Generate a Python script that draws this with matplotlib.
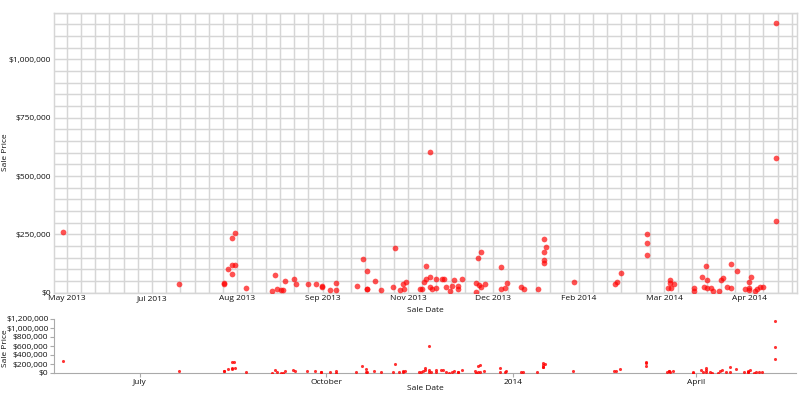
import datetime as dt
import matplotlib
matplotlib.use("Agg")
import matplotlib.pyplot as plt
import matplotlib.dates as mdates
from matplotlib.ticker import FuncFormatter, MultipleLocator

plt.rcParams['font.family'] = ['Open Sans', 'DejaVu Sans']

# ---- data ----
base_date = dt.datetime(2013, 5, 19)
sale_day = [  # days after 2013-05-19
    5.4, 62.5, 84.5, 84.6, 86.5, 88.5, 89.6, 88.5, 89.8, 88.5, 95.4,
    108.2, 109.5, 110.6, 112.5, 113.5, 114.5, 118.7, 119.7, 125.6, 129.5,
    132.5, 132.6, 136.6, 139.6, 139.7, 149.7, 152.7, 154.6, 154.6, 154.9,
    158.7, 161.8, 167.6, 168.7, 170.9, 172.9, 172.6, 173.8, 180.7, 181.7,
    182.7, 183.7, 183.7, 185.7, 185.7, 185.8, 186.8, 188.8, 188.8, 191.6,
    192.7, 193.8, 195.5, 196.7, 197.8, 199.7, 199.7, 201.8, 208.5, 208.7,
    209.6, 210.8, 209.9, 210.9, 212.8, 220.6, 220.7, 222.9, 223.7, 230.8,
    231.9, 238.9, 241.8, 242.8, 241.8, 241.8, 241.8, 256.8, 276.8, 277.9,
    279.9, 292.8, 292.8, 292.8, 302.8, 303.9, 303.9, 304.4, 306.0, 315.9,
    315.9, 319.9, 320.7, 321.9, 322.0, 322.3, 324.1, 325.1, 327.9, 329.0,
    330.0, 332.0, 333.9, 333.9, 336.9, 340.8, 342.8, 342.8, 343.0, 343.9,
    345.9, 346.9, 348.2, 349.9, 356.1, 356.1, 356.1,
]
sale_price = [
    259000, 37000, 38000, 42000, 100000, 234000, 254000, 120000, 120000, 80000, 20000,
    9000, 75000, 14000, 10000, 10000, 50000, 59000, 36000, 38000, 37000,
    30000, 23000, 13000, 40000, 10000, 27000, 146000, 94000, 14000, 16000,
    50000, 12000, 24000, 191000, 12000, 14000, 37000, 46000, 14000, 14000,
    45000, 114000, 59000, 66000, 604000, 25000, 14000, 22000, 59000, 57000,
    59000, 26000, 9000, 29000, 53000, 29000, 14000, 57000, 42000, 4000,
    150000, 175000, 32000, 23000, 36000, 111000, 17000, 21000, 40000, 23000,
    15000, 17000, 230000, 198000, 176000, 140000, 129000, 46000, 39000, 47000,
    84000, 253000, 214000, 160000, 20000, 55000, 42000, 21000, 37000, 20000,
    7000, 68000, 23000, 116000, 56000, 22000, 22000, 9000, 8000, 55000,
    64000, 24000, 125000, 21000, 95000, 15000, 47000, 22000, 12000, 67000,
    7000, 14000, 23000, 23000, 1157000, 579000, 309000,
]

main_tick_dates = ['2013-05-26', '2013-07-07', '2013-08-18', '2013-09-29', '2013-11-10',
                   '2013-12-22', '2014-02-02', '2014-03-16', '2014-04-27']
main_price_ticks = [0, 250000, 500000, 750000, 1000000]
overview_tick_dates = ['2013-07-01', '2013-10-01', '2014-01-01', '2014-04-01']
overview_tick_labels = ['July', 'October', '2014', 'April']
overview_price_ticks = [0, 200000, 400000, 600000, 800000, 1000000, 1200000]

# ---- figure ----
W, H = 800, 394
fig = plt.figure(figsize=(W / 100, H / 100), dpi=100)

def rect(l, t, r, b):
    return [l / W, 1 - b / H, (r - l) / W, (b - t) / H]

dates = [mdates.date2num(base_date + dt.timedelta(days=d)) for d in sale_day]
x0 = mdates.date2num(base_date + dt.timedelta(days=0.74))
x1 = mdates.date2num(base_date + dt.timedelta(days=366.5))

money = FuncFormatter(lambda v, p: '$0' if v == 0 else '${:,.0f}'.format(v))
grid_c = '#d6d6d6'
text_c = '#111111'
fs = 6.0

# main chart
ax = fig.add_axes(rect(54, 12.7, 797, 292.7))
ax.scatter(dates, sale_price, s=17, color='#ff0000', alpha=0.68, linewidths=0, zorder=3)
ax.set_xlim(x0, x1)
ax.set_ylim(0, 1200000)
ax.set_xticks([mdates.datestr2num(d) for d in main_tick_dates])
ax.xaxis.set_major_formatter(mdates.DateFormatter('%b %Y'))
ax.xaxis.set_minor_locator(mdates.WeekdayLocator(byweekday=mdates.SU))
ax.set_yticks(main_price_ticks)
ax.yaxis.set_major_formatter(money)
ax.yaxis.set_minor_locator(MultipleLocator(50000))
ax.grid(True, which='both', color=grid_c, linewidth=1.05, zorder=0)
ax.set_axisbelow(True)
ax.tick_params(which='both', length=0, labelsize=fs, colors=text_c, pad=2)
for s in ax.spines.values():
    s.set_color(grid_c)
    s.set_linewidth(1.05)

fig.text(425 / W, 1 - 310 / H, 'Sale Date', ha='center', va='center', fontsize=fs, color=text_c)
fig.text(6 / W, 1 - 152 / H, 'Sale Price', ha='center', va='center', rotation=90, fontsize=fs, color=text_c)

# overview chart
ax2 = fig.add_axes(rect(54, 319, 796, 373))
ax2.scatter(dates, sale_price, s=5, color='#ff0000', alpha=0.8, linewidths=0, zorder=3)
ax2.set_xlim(x0, x1)
ax2.set_ylim(0, 1200000)
ax2.set_xticks([mdates.datestr2num(d) for d in overview_tick_dates])
ax2.set_xticklabels(overview_tick_labels)
ax2.set_yticks(overview_price_ticks)
ax2.yaxis.set_major_formatter(money)
ax2.tick_params(length=3, width=0.8, color='#aaaaaa', labelsize=fs, labelcolor=text_c, pad=1)
ax2.spines['top'].set_visible(False)
ax2.spines['right'].set_visible(False)
for s in ('left', 'bottom'):
    ax2.spines[s].set_color('#aaaaaa')
    ax2.spines[s].set_linewidth(0.8)

fig.text(425 / W, 1 - 389 / H, 'Sale Date', ha='center', va='center', fontsize=fs, color=text_c)
fig.text(6 / W, 1 - 348 / H, 'Sale Price', ha='center', va='center', rotation=90, fontsize=fs, color=text_c)

fig.savefig('out.png', dpi=100, facecolor='white')
